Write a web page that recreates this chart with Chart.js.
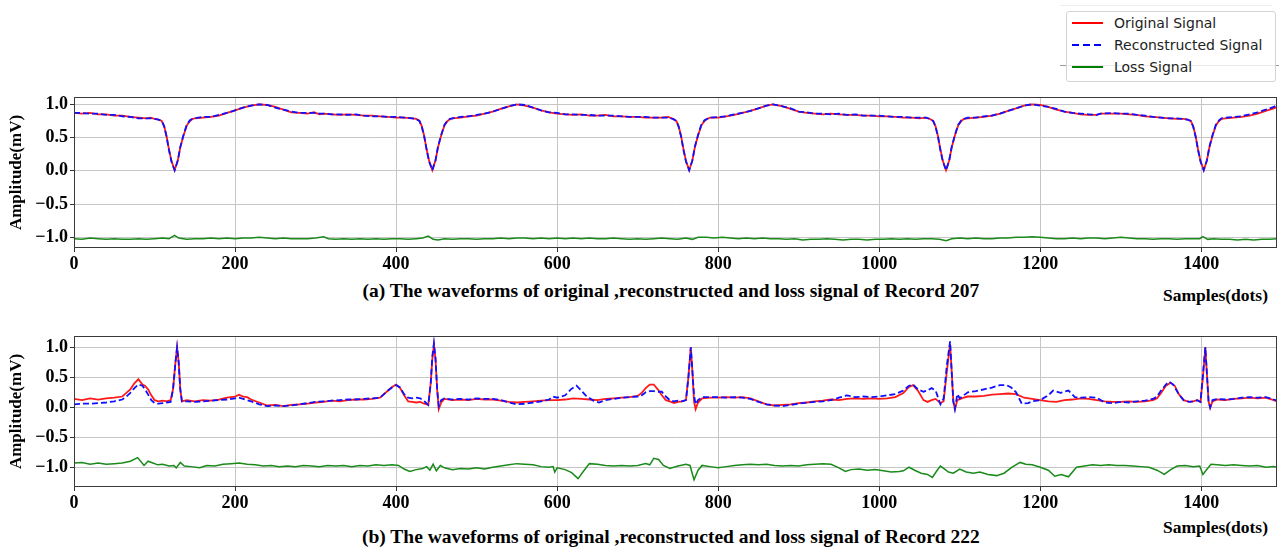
<!DOCTYPE html>
<html>
<head>
<meta charset="utf-8">
<script src="https://cdn.jsdelivr.net/npm/chart.js@4.4.0/dist/chart.umd.min.js"></script>
<style>
  body { margin: 0; background: #fff; width: 1279px; height: 549px; overflow: hidden; position: relative; font-family: "Liberation Serif", serif; }
  canvas { position: absolute; left: 0; }
  #chartA { top: 90px; }
  #chartB { top: 320px; }
  .caption { position: absolute; font-weight: bold; font-size: 19.5px; white-space: nowrap; color: #000; }
  .units { position: absolute; font-weight: bold; font-size: 17.5px; white-space: nowrap; color: #000; }
  .rule { position: absolute; height: 1px; }
  #legend { position: absolute; left: 1066px; top: 11px; width: 208px; height: 69px; border: 1px solid #d4d4d4; border-radius: 3px; background: rgba(255,255,255,0.8); font-family: "DejaVu Sans", sans-serif; font-size: 14px; color: #222; }
  #legend .row { height: 22px; line-height: 22px; display: flex; align-items: center; padding-left: 5px; }
  #legend svg { margin-right: 11px; }
</style>
</head>
<body>
<div class="rule" style="top:5px; left:1060px; width:212px; background:#eeeeee"></div>
<div class="rule" style="top:65px; left:1060px; width:219px; background:#9a9a9a"></div>
<div id="legend">
  <div class="row"><svg width="31" height="4"><line x1="0" y1="2" x2="31" y2="2" stroke="#ff0000" stroke-width="2"/></svg>Original Signal</div>
  <div class="row"><svg width="31" height="4"><line x1="0" y1="2" x2="31" y2="2" stroke="#0000ff" stroke-width="2" stroke-dasharray="7,4"/></svg>Reconstructed Signal</div>
  <div class="row"><svg width="31" height="4"><line x1="0" y1="2" x2="31" y2="2" stroke="#008000" stroke-width="2"/></svg>Loss Signal</div>
</div>

<canvas id="chartA" width="1279" height="190"></canvas>
<canvas id="chartB" width="1279" height="190"></canvas>

<div class="caption" id="capA" style="top:280px">(a) The waveforms of original ,reconstructed and loss signal of Record 207</div>
<div class="units" style="top:285px; left:1163px">Samples(dots)</div>
<div class="caption" id="capB" style="top:526px">(b) The waveforms of original ,reconstructed and loss signal of Record 222</div>
<div class="units" style="top:517px; left:1163px">Samples(dots)</div>

<script>
// Record 207: [sample, amplitude mV]
const originalA = [[0,0.87],[10,0.86],[20,0.87],[30,0.85],[40,0.85],[50,0.83],[60,0.83],[70,0.81],[80,0.80],[90,0.79],[95,0.80],[100,0.78],
  [105,0.77],[109,0.75],[112,0.67],[115,0.52],[118,0.32],[121,0.15],[125,0.01],[129,0.16],[132,0.35],[136,0.53],[140,0.68],[144,0.75],[147,0.78],
  [150,0.79],[160,0.80],[170,0.81],[180,0.83],[190,0.87],[200,0.91],[210,0.95],[220,0.98],[230,1.0],[240,0.99],[250,0.96],[260,0.92],[270,0.88],[280,0.87],[290,0.86],[298,0.88],[305,0.85],[310,0.86],[320,0.85],[330,0.84],[340,0.85],[350,0.84],[360,0.83],[370,0.83],[380,0.82],[390,0.81],[400,0.80],[410,0.80],[420,0.79],
  [425,0.78],[429,0.75],[432,0.67],[435,0.52],[438,0.32],[441,0.15],[445,0.01],[449,0.16],[452,0.35],[456,0.53],[460,0.68],[464,0.75],[467,0.78],
  [470,0.79],[480,0.80],[490,0.82],[500,0.83],[510,0.86],[520,0.89],[530,0.93],[540,0.97],[550,1.0],[560,0.98],[570,0.95],[580,0.91],[590,0.88],[600,0.86],[610,0.85],[620,0.84],[630,0.85],[640,0.83],[650,0.83],[660,0.84],[670,0.82],[680,0.82],[690,0.81],[700,0.81],[710,0.80],[720,0.80],[730,0.80],[738,0.81],
  [744,0.78],[748,0.75],[751,0.67],[754,0.52],[757,0.32],[760,0.15],[764,0.01],[768,0.16],[771,0.35],[775,0.53],[779,0.68],[783,0.75],[786,0.78],
  [790,0.80],[800,0.80],[810,0.82],[820,0.84],[830,0.87],[840,0.90],[850,0.94],[860,0.98],[868,1.0],[880,0.97],[890,0.93],[900,0.89],[910,0.87],[920,0.86],[930,0.85],[940,0.86],[950,0.85],[960,0.84],[970,0.84],[980,0.83],[990,0.83],[1000,0.82],[1010,0.82],[1020,0.81],[1030,0.80],[1040,0.80],[1050,0.79],[1058,0.80],
  [1063,0.78],[1067,0.75],[1070,0.67],[1073,0.52],[1076,0.32],[1079,0.15],[1083,0.01],[1087,0.16],[1090,0.35],[1094,0.53],[1098,0.68],[1102,0.75],[1105,0.78],
  [1110,0.79],[1120,0.80],[1130,0.81],[1140,0.83],[1150,0.86],[1160,0.90],[1170,0.94],[1180,0.98],[1190,1.0],[1200,0.99],[1210,0.96],[1220,0.92],[1230,0.89],[1240,0.87],[1250,0.85],[1260,0.84],[1270,0.84],[1275,0.86],[1290,0.86],[1300,0.86],[1310,0.85],[1320,0.84],[1330,0.82],[1340,0.81],[1350,0.80],[1360,0.79],[1370,0.78],[1378,0.78],
  [1383,0.77],[1387,0.75],[1390,0.67],[1393,0.52],[1396,0.32],[1399,0.15],[1403,0.01],[1407,0.16],[1410,0.35],[1414,0.53],[1418,0.68],[1422,0.75],[1425,0.78],
  [1430,0.79],[1440,0.80],[1450,0.81],[1460,0.83],[1470,0.86],[1480,0.90],[1490,0.94],[1494,0.96]];

const reconA = [[0,0.87],[10,0.87],[20,0.86],[30,0.86],[40,0.84],[50,0.84],[60,0.82],[70,0.81],[80,0.79],[90,0.79],[95,0.79],[100,0.78],
  [105,0.77],[109,0.75],[112,0.67],[115,0.51],[118,0.31],[121,0.14],[125,0.01],[129,0.16],[132,0.36],[136,0.54],[140,0.69],[144,0.76],[147,0.78],
  [150,0.79],[160,0.81],[170,0.81],[180,0.84],[190,0.87],[200,0.91],[210,0.95],[220,0.98],[230,1.0],[240,0.99],[250,0.95],[260,0.92],[270,0.89],[280,0.87],[290,0.87],[298,0.87],[305,0.86],[310,0.86],[320,0.85],[330,0.85],[340,0.84],[350,0.85],[360,0.83],[370,0.82],[380,0.82],[390,0.81],[400,0.81],[410,0.80],[420,0.79],
  [425,0.78],[429,0.75],[432,0.66],[435,0.51],[438,0.31],[441,0.14],[445,0.01],[449,0.16],[452,0.36],[456,0.54],[460,0.69],[464,0.76],[467,0.78],
  [470,0.79],[480,0.81],[490,0.82],[500,0.84],[510,0.86],[520,0.89],[530,0.93],[540,0.97],[550,1.0],[560,0.99],[570,0.95],[580,0.91],[590,0.88],[600,0.87],[610,0.85],[620,0.85],[630,0.84],[640,0.84],[650,0.83],[660,0.83],[670,0.83],[680,0.82],[690,0.81],[700,0.81],[710,0.81],[720,0.80],[730,0.80],[738,0.80],
  [744,0.78],[748,0.75],[751,0.66],[754,0.51],[757,0.31],[760,0.14],[764,0.01],[768,0.16],[771,0.36],[775,0.54],[779,0.69],[783,0.76],[786,0.78],
  [790,0.80],[800,0.81],[810,0.82],[820,0.85],[830,0.87],[840,0.90],[850,0.94],[860,0.98],[868,1.0],[880,0.97],[890,0.94],[900,0.89],[910,0.88],[920,0.86],[930,0.86],[940,0.85],[950,0.86],[960,0.84],[970,0.85],[980,0.83],[990,0.83],[1000,0.83],[1010,0.82],[1020,0.81],[1030,0.81],[1040,0.80],[1050,0.80],[1058,0.80],
  [1063,0.78],[1067,0.75],[1070,0.66],[1073,0.51],[1076,0.31],[1079,0.14],[1083,0.01],[1087,0.16],[1090,0.36],[1094,0.54],[1098,0.69],[1102,0.76],[1105,0.78],
  [1110,0.80],[1120,0.80],[1130,0.82],[1140,0.83],[1150,0.86],[1160,0.90],[1170,0.94],[1180,0.98],[1190,1.0],[1200,0.98],[1210,0.96],[1220,0.93],[1230,0.89],[1240,0.87],[1250,0.86],[1260,0.85],[1270,0.84],[1275,0.86],[1290,0.87],[1300,0.86],[1310,0.86],[1320,0.84],[1330,0.83],[1340,0.81],[1350,0.80],[1360,0.79],[1370,0.79],[1378,0.78],
  [1383,0.77],[1387,0.75],[1390,0.66],[1393,0.51],[1396,0.31],[1399,0.14],[1403,0.01],[1407,0.16],[1410,0.36],[1414,0.54],[1418,0.69],[1422,0.76],[1425,0.79],
  [1430,0.80],[1440,0.81],[1450,0.82],[1460,0.85],[1470,0.88],[1480,0.92],[1490,0.96],[1494,0.99]];

const lossA = [[0,-1.02],[10,-1.03],[20,-1.01],[30,-1.02],[40,-1.03],[50,-1.02],[60,-1.03],[70,-1.03],[80,-1.02],[90,-1.03],[100,-1.02],[110,-1.01],[118,-1.02],[125,-0.97],[130,-1.01],[140,-1.03],[150,-1.02],[160,-1.02],[170,-1.01],[180,-1.02],[190,-1.01],[200,-1.02],[210,-1.01],[220,-1.01],[230,-1.0],[240,-1.01],[250,-1.02],[260,-1.01],[270,-1.02],[280,-1.02],[290,-1.02],[300,-1.01],[310,-0.99],[316,-1.02],[325,-1.03],[335,-1.02],[345,-1.03],[355,-1.02],[365,-1.03],[375,-1.02],[385,-1.03],[395,-1.02],[405,-1.02],[415,-1.03],[425,-1.02],[433,-1.01],[440,-0.98],[446,-1.03],[452,-1.04],[460,-1.02],[470,-1.03],[480,-1.02],[490,-1.02],[500,-1.03],[510,-1.02],[520,-1.02],[530,-1.01],[540,-1.02],[550,-1.01],[560,-1.01],[570,-1.02],[580,-1.01],[590,-1.02],[600,-1.01],[610,-1.02],[620,-1.01],[630,-1.02],[640,-1.01],[650,-1.02],[660,-1.02],[670,-1.01],[680,-1.02],[690,-1.03],[700,-1.02],[710,-1.03],[720,-1.02],[730,-1.01],[740,-1.02],[750,-1.03],[760,-1.01],[768,-1.03],[775,-1.0],[785,-1.0],[795,-1.01],[805,-1.0],[815,-1.01],[825,-1.02],[835,-1.01],[845,-1.02],[855,-1.01],[865,-1.02],[875,-1.02],[885,-1.03],[895,-1.02],[905,-1.04],[915,-1.03],[925,-1.03],[935,-1.02],[945,-1.03],[955,-1.04],[965,-1.03],[975,-1.03],[985,-1.04],[995,-1.03],[1005,-1.03],[1015,-1.02],[1025,-1.03],[1035,-1.02],[1045,-1.03],[1055,-1.02],[1065,-1.02],[1075,-1.03],[1083,-1.05],[1090,-1.02],[1100,-1.01],[1110,-1.02],[1120,-1.01],[1130,-1.02],[1140,-1.02],[1150,-1.01],[1160,-1.01],[1170,-1.0],[1180,-1.0],[1190,-0.99],[1200,-1.0],[1210,-1.01],[1220,-1.02],[1230,-1.02],[1240,-1.01],[1250,-1.02],[1260,-1.01],[1270,-1.01],[1280,-1.02],[1290,-1.01],[1300,-1.0],[1310,-1.01],[1320,-1.02],[1330,-1.02],[1340,-1.03],[1350,-1.02],[1360,-1.02],[1370,-1.03],[1380,-1.02],[1390,-1.02],[1398,-1.02],[1402,-0.99],[1408,-1.03],[1415,-1.02],[1425,-1.03],[1435,-1.03],[1445,-1.04],[1455,-1.03],[1465,-1.04],[1475,-1.03],[1485,-1.03],[1494,-1.02]];

// Record 222
const originalB = [[0,0.14],[10,0.12],[20,0.15],[30,0.13],[40,0.15],[50,0.16],[60,0.18],[65,0.24],[70,0.30],[75,0.40],[80,0.47],[85,0.38],[88,0.36],[92,0.30],[96,0.20],[100,0.12],[105,0.10],[110,0.11],[115,0.10],[120,0.12],[123,0.30],[126,0.75],[128,1.0],[130,0.75],[132,0.30],[134,0.10],[140,0.12],[150,0.10],[160,0.12],[170,0.11],[180,0.13],[190,0.16],[200,0.18],[205,0.21],[210,0.18],[215,0.17],[220,0.13],[230,0.08],[240,0.03],[250,0.04],[260,0.02],[270,0.04],[280,0.05],[290,0.06],[300,0.08],[310,0.09],[320,0.11],[330,0.10],[340,0.12],[350,0.13],[360,0.13],[370,0.14],[380,0.16],[385,0.22],[390,0.28],[395,0.34],[400,0.38],[405,0.32],[410,0.20],[415,0.10],[420,0.09],[425,0.08],[430,0.09],[435,0.06],[440,0.04],[443,0.40],[445,0.80],[447,1.04],[449,0.80],[451,0.30],[453,-0.03],[456,0.08],[460,0.14],[470,0.12],[480,0.13],[490,0.12],[500,0.14],[510,0.13],[520,0.13],[530,0.11],[540,0.09],[550,0.08],[560,0.09],[570,0.10],[580,0.11],[590,0.12],[600,0.12],[610,0.13],[620,0.15],[630,0.14],[640,0.13],[650,0.12],[660,0.14],[670,0.15],[680,0.16],[690,0.17],[700,0.19],[705,0.24],[710,0.32],[715,0.38],[720,0.38],[725,0.30],[730,0.20],[735,0.12],[740,0.10],[745,0.07],[750,0.09],[755,0.10],[760,0.12],[763,0.50],[766,1.0],[768,0.60],[770,0.10],[772,-0.03],[775,0.08],[780,0.15],[790,0.16],[800,0.16],[810,0.17],[820,0.16],[830,0.17],[840,0.15],[850,0.10],[860,0.05],[870,0.03],[880,0.04],[890,0.05],[900,0.07],[910,0.08],[920,0.10],[930,0.11],[940,0.13],[950,0.12],[960,0.14],[970,0.15],[980,0.14],[990,0.15],[1000,0.14],[1010,0.15],[1020,0.17],[1030,0.24],[1037,0.34],[1042,0.37],[1048,0.28],[1055,0.12],[1060,0.09],[1065,0.12],[1070,0.14],[1076,0.07],[1080,0.10],[1084,0.60],[1088,1.05],[1090,0.60],[1092,0.10],[1094,-0.03],[1097,0.12],[1105,0.16],[1110,0.18],[1120,0.18],[1130,0.19],[1140,0.21],[1150,0.22],[1160,0.23],[1170,0.22],[1180,0.16],[1190,0.14],[1200,0.12],[1210,0.10],[1220,0.09],[1230,0.12],[1240,0.13],[1250,0.15],[1260,0.14],[1270,0.12],[1280,0.10],[1290,0.09],[1300,0.09],[1310,0.10],[1320,0.09],[1330,0.10],[1340,0.12],[1345,0.15],[1350,0.24],[1356,0.36],[1362,0.41],[1367,0.36],[1372,0.22],[1378,0.12],[1385,0.09],[1390,0.10],[1395,0.12],[1399,0.09],[1402,0.50],[1405,1.0],[1407,0.55],[1409,0.10],[1411,-0.01],[1414,0.10],[1420,0.13],[1430,0.12],[1440,0.14],[1450,0.15],[1460,0.16],[1470,0.15],[1480,0.16],[1490,0.12],[1494,0.10]];

const reconB = [[0,0.05],[10,0.06],[20,0.06],[30,0.07],[40,0.08],[50,0.10],[60,0.13],[65,0.18],[70,0.24],[75,0.32],[80,0.38],[85,0.36],[90,0.26],[96,0.12],[100,0.07],[105,0.06],[110,0.07],[115,0.08],[120,0.09],[123,0.30],[126,0.75],[128,1.0],[130,0.75],[132,0.30],[134,0.10],[140,0.10],[150,0.09],[160,0.10],[170,0.11],[180,0.12],[190,0.13],[200,0.15],[205,0.16],[210,0.14],[220,0.10],[230,0.05],[240,0.02],[250,0.03],[260,0.02],[270,0.03],[280,0.05],[290,0.07],[300,0.09],[310,0.10],[320,0.11],[330,0.12],[340,0.13],[350,0.13],[360,0.14],[370,0.15],[380,0.16],[385,0.22],[390,0.28],[395,0.33],[400,0.37],[405,0.33],[410,0.22],[415,0.16],[420,0.15],[425,0.16],[430,0.15],[435,0.10],[440,0.04],[443,0.40],[445,0.85],[447,1.07],[449,0.80],[451,0.30],[453,0.02],[456,0.12],[460,0.15],[470,0.13],[480,0.14],[490,0.13],[500,0.15],[510,0.14],[520,0.14],[530,0.12],[540,0.08],[550,0.05],[560,0.06],[570,0.08],[580,0.10],[590,0.13],[595,0.18],[600,0.16],[610,0.20],[617,0.30],[624,0.36],[630,0.28],[636,0.19],[645,0.11],[652,0.08],[660,0.12],[670,0.14],[680,0.16],[690,0.17],[700,0.18],[705,0.20],[710,0.25],[715,0.27],[720,0.27],[725,0.26],[730,0.26],[735,0.18],[740,0.12],[745,0.10],[750,0.11],[755,0.10],[760,0.12],[763,0.50],[766,1.0],[768,0.60],[770,0.20],[772,0.05],[775,0.12],[780,0.17],[790,0.17],[800,0.17],[810,0.16],[820,0.17],[830,0.16],[840,0.14],[850,0.09],[860,0.05],[870,0.03],[880,0.02],[890,0.04],[900,0.06],[910,0.08],[920,0.09],[930,0.10],[940,0.12],[950,0.16],[960,0.20],[970,0.17],[980,0.18],[990,0.17],[1000,0.18],[1010,0.20],[1020,0.22],[1030,0.28],[1037,0.36],[1042,0.38],[1048,0.30],[1055,0.26],[1060,0.28],[1065,0.32],[1070,0.28],[1076,0.05],[1080,0.15],[1084,0.70],[1088,1.10],[1090,0.60],[1092,0.10],[1094,-0.03],[1097,0.22],[1100,0.15],[1105,0.20],[1110,0.25],[1120,0.27],[1130,0.30],[1140,0.33],[1150,0.37],[1158,0.37],[1164,0.33],[1170,0.25],[1177,0.06],[1185,0.07],[1190,0.10],[1200,0.12],[1210,0.20],[1216,0.28],[1225,0.24],[1235,0.28],[1243,0.17],[1250,0.16],[1260,0.17],[1270,0.16],[1280,0.08],[1290,0.07],[1300,0.09],[1310,0.08],[1320,0.10],[1330,0.11],[1340,0.14],[1345,0.18],[1350,0.28],[1356,0.38],[1360,0.43],[1365,0.38],[1372,0.22],[1378,0.12],[1385,0.09],[1390,0.10],[1395,0.12],[1399,0.09],[1402,0.55],[1405,1.0],[1407,0.55],[1409,0.10],[1411,0.0],[1414,0.12],[1420,0.14],[1430,0.13],[1440,0.14],[1450,0.16],[1460,0.17],[1470,0.16],[1480,0.17],[1490,0.13],[1494,0.11]];

const lossB = [[0,-0.93],[10,-0.92],[20,-0.95],[30,-0.93],[40,-0.95],[50,-0.94],[60,-0.93],[70,-0.90],[79,-0.84],[84,-0.92],[87,-0.97],[92,-0.90],[98,-0.93],[104,-0.96],[110,-0.95],[118,-0.98],[124,-0.97],[127,-1.01],[132,-0.92],[137,-0.98],[145,-0.99],[156,-1.01],[165,-0.97],[175,-0.98],[185,-0.95],[195,-0.94],[205,-0.93],[215,-0.95],[225,-0.96],[235,-0.98],[245,-0.97],[255,-0.99],[265,-0.98],[275,-0.99],[285,-0.97],[295,-0.98],[305,-0.99],[315,-0.97],[325,-0.98],[335,-0.97],[345,-0.99],[355,-0.97],[365,-0.98],[375,-0.96],[385,-0.97],[395,-0.96],[403,-0.97],[410,-1.03],[417,-1.07],[425,-1.04],[433,-1.02],[438,-0.99],[442,-1.05],[446,-0.95],[450,-1.06],[455,-0.97],[460,-1.01],[470,-1.04],[480,-1.02],[490,-1.03],[500,-1.01],[510,-1.03],[520,-1.0],[530,-0.98],[540,-0.96],[550,-0.94],[560,-0.95],[570,-0.96],[580,-0.99],[590,-1.0],[595,-0.99],[597,-1.08],[600,-1.01],[610,-1.04],[618,-1.09],[626,-1.19],[632,-1.08],[640,-0.94],[650,-0.95],[660,-0.97],[670,-0.98],[680,-0.97],[690,-0.98],[700,-0.97],[710,-0.94],[715,-0.96],[720,-0.85],[726,-0.87],[732,-0.97],[740,-1.02],[750,-0.98],[760,-0.95],[765,-0.97],[770,-1.21],[775,-1.05],[780,-0.97],[790,-0.99],[800,-1.01],[810,-0.99],[820,-0.97],[830,-0.96],[840,-0.95],[850,-0.96],[860,-0.95],[870,-0.97],[880,-0.98],[890,-0.97],[900,-0.98],[910,-0.96],[920,-0.95],[930,-0.94],[940,-0.95],[950,-1.01],[958,-1.07],[965,-1.04],[975,-1.03],[985,-1.05],[995,-1.04],[1005,-1.06],[1015,-1.08],[1025,-1.07],[1030,-1.06],[1037,-1.0],[1044,-1.05],[1052,-1.10],[1060,-1.12],[1066,-1.17],[1072,-1.05],[1076,-0.98],[1080,-1.02],[1086,-1.08],[1092,-1.10],[1100,-1.03],[1108,-1.08],[1117,-1.10],[1125,-1.08],[1135,-1.12],[1146,-1.14],[1155,-1.10],[1165,-1.0],[1175,-0.92],[1182,-0.95],[1190,-0.96],[1200,-1.0],[1210,-1.05],[1218,-1.15],[1226,-1.12],[1235,-1.16],[1245,-1.0],[1255,-0.98],[1265,-0.96],[1275,-0.97],[1285,-0.96],[1295,-0.97],[1305,-0.97],[1315,-0.98],[1325,-0.99],[1335,-1.0],[1345,-1.05],[1354,-1.12],[1362,-1.04],[1370,-0.98],[1380,-0.97],[1390,-0.99],[1398,-0.98],[1402,-1.12],[1406,-1.05],[1412,-0.95],[1420,-0.96],[1430,-0.97],[1440,-0.96],[1450,-0.97],[1460,-0.98],[1470,-0.97],[1480,-1.0],[1490,-0.99],[1494,-1.0]];

const xMax = 1494;
const serifBold = (size) => ({ family: "'Liberation Serif', 'Times New Roman', serif", size, weight: "bold" });

// matplotlib-style box round the plot area
const framePlugin = {
  id: "frame",
  afterDraw(chart) {
    const { ctx, chartArea: a } = chart;
    ctx.save();
    ctx.strokeStyle = "#3a3a3a";
    ctx.lineWidth = 1;
    ctx.strokeRect(Math.round(a.left) + 0.5, Math.round(a.top) + 0.5, Math.round(a.right - a.left) - 1, Math.round(a.bottom - a.top) - 1);
    ctx.restore();
  }
};

function toPoints(pairs) {
  return pairs.map(([x, y]) => ({ x, y }));
}

function makeChart(id, original, recon, loss, yMin, yMax, padTop, xAxisHeight) {
  return new Chart(document.getElementById(id), {
    type: "line",
    data: {
      datasets: [
        { label: "Original Signal", data: toPoints(original), borderColor: "#ff1a1a", borderWidth: 1.8, order: 2 },
        { label: "Reconstructed Signal", data: toPoints(recon), borderColor: "#1010ff", borderWidth: 1.8, borderDash: [6, 3], order: 1 },
        { label: "Loss Signal", data: toPoints(loss), borderColor: "#1a8a1a", borderWidth: 1.5, order: 3 }
      ]
    },
    options: {
      responsive: false,
      animation: false,
      layout: { padding: { top: padTop, right: 2, left: 0, bottom: 0 } },
      elements: { point: { radius: 0 }, line: { tension: 0 } },
      plugins: { legend: { display: false }, tooltip: { enabled: false } },
      scales: {
        x: {
          type: "linear",
          min: 0,
          max: xMax,
          afterFit: (scale) => { scale.height = xAxisHeight; scale.paddingLeft = 0; scale.paddingRight = 0; },
          border: { display: false },
          grid: { color: "#c6c6c6", lineWidth: 1, tickLength: 4, tickColor: "#333" },
          ticks: { stepSize: 200, includeBounds: false, color: "#000", font: serifBold(18), padding: 2, maxRotation: 0, callback: (v) => String(v) }
        },
        y: {
          min: yMin,
          max: yMax,
          afterFit: (scale) => { scale.width = 74; scale.paddingTop = 0; scale.paddingBottom = 0; },
          border: { display: false },
          grid: { color: "#c6c6c6", lineWidth: 1, tickLength: 4, tickColor: "#333" },
          ticks: {
            stepSize: 0.5,
            includeBounds: false,
            color: "#000",
            font: serifBold(18),
            padding: 2,
            callback: (v) => (v < 0 ? "\u2212" : "") + Math.abs(v).toFixed(1)
          },
          title: { display: true, text: "Amplitude(mV)", color: "#000", font: serifBold(17), padding: { top: 6, bottom: 0 } }
        }
      }
    },
    plugins: [framePlugin]
  });
}

makeChart("chartA", originalA, reconA, lossA, -1.16, 1.11, 7, 32);
makeChart("chartB", originalB, reconB, lossB, -1.33, 1.19, 16, 23);

// centre the captions under the plots
["capA", "capB"].forEach((id) => {
  const el = document.getElementById(id);
  el.style.left = (671 - el.offsetWidth / 2) + "px";
});
</script>
</body>
</html>
